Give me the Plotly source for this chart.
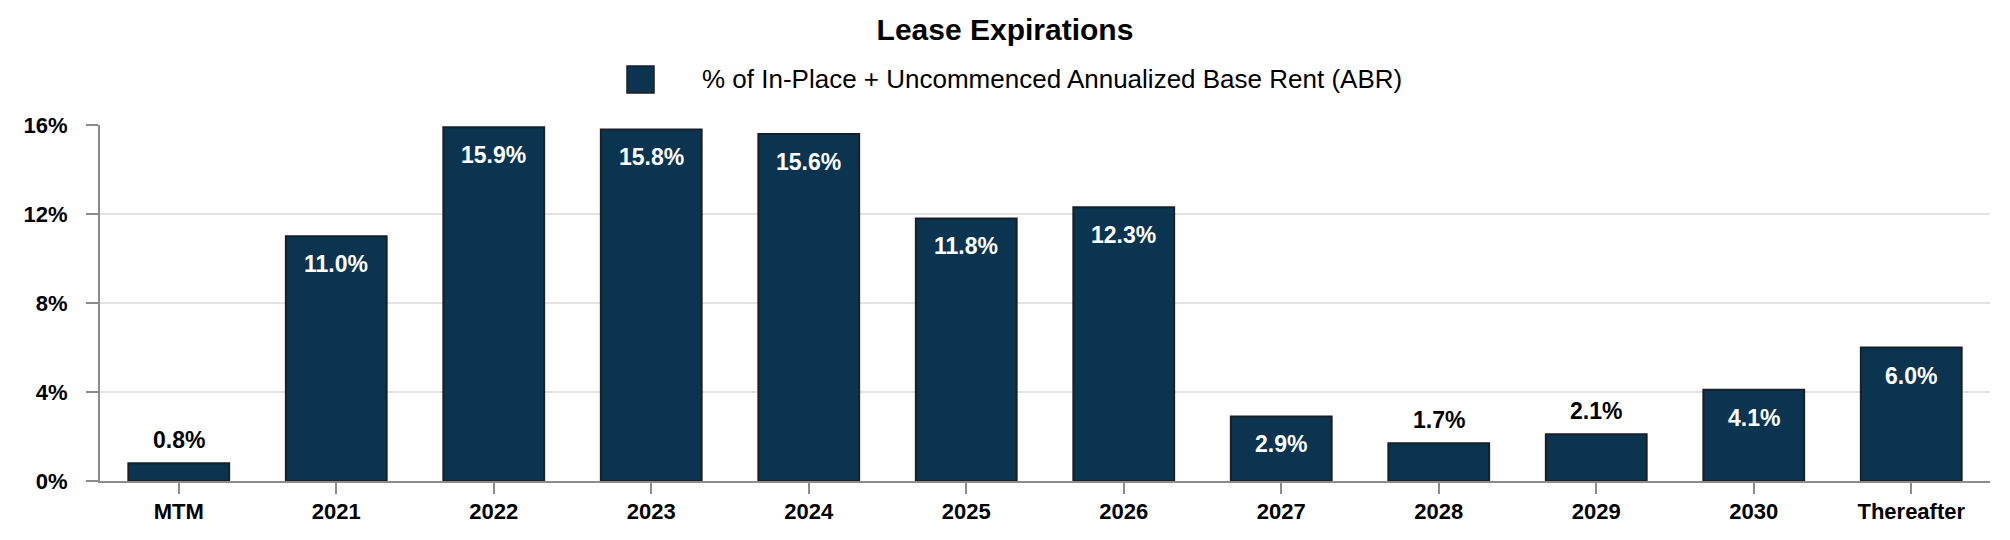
import plotly.graph_objects as go

categories = ["MTM", "2021", "2022", "2023", "2024", "2025", "2026",
              "2027", "2028", "2029", "2030", "Thereafter"]
abr_pct = [0.8, 11.0, 15.9, 15.8, 15.6, 11.8, 12.3, 2.9, 1.7, 2.1, 4.1, 6.0]
y_ticks = [0, 4, 8, 12, 16]
y_tick_labels = ["0%", "4%", "8%", "12%", "16%"]
series_name = "% of In-Place + Uncommenced Annualized Base Rent (ABR)"
title_text = "Lease Expirations"

BAR_COLOR = "#0a3450"
FONT = "Liberation Sans, Arial, sans-serif"
OFF = 8  # page body margin
W, H = 2010 - OFF, 540 - OFF
L, R, T, B = 100 - OFF, 20, 125 - OFF, 59

fig = go.Figure()
fig.add_trace(go.Bar(
    x=categories, y=abr_pct, name=series_name,
    marker=dict(color=BAR_COLOR, line=dict(color="#1a1f24", width=2)),
    width=0.64, showlegend=False, hoverinfo="x+y",
))

# data labels: inside (white) for tall bars, above (black) for short ones
for i, v in enumerate(abr_pct):
    inside = v >= 2.5
    fig.add_annotation(
        x=i, y=v, xref="x", yref="y", text=f"{v:.1f}%", showarrow=False,
        yanchor="middle", yshift=-28 if inside else 23,
        font=dict(family=FONT, size=23, color="white" if inside else "black", weight="bold"),
    )

# legend (custom, to match the large square key); positions in page pixels
pw, ph = W - L - R, H - T - B
def px_x(p): return (p - OFF - L) / pw
def px_y(p): return (H - B - (p - OFF)) / ph
fig.add_shape(type="rect", xref="paper", yref="paper",
              x0=px_x(627), x1=px_x(654), y0=px_y(93), y1=px_y(66),
              fillcolor=BAR_COLOR, line=dict(color="#1a1f24", width=1.5))
fig.add_annotation(xref="paper", yref="paper", x=px_x(700), y=px_y(79),
                   xanchor="left", yanchor="middle", showarrow=False,
                   text=series_name, font=dict(family=FONT, size=26, color="black"))

fig.update_layout(
    width=W, height=H,
    margin=dict(l=L, r=R, t=T, b=B),
    paper_bgcolor="white", plot_bgcolor="white",
    title=dict(text=title_text, x=(1005 - OFF) / W, xanchor="center", xref="container",
               y=1 - (29 - OFF) / H, yanchor="middle", yref="container",
               font=dict(family=FONT, size=30, color="black", weight="bold")),
    showlegend=False,
    bargap=0.36,
)
fig.update_xaxes(
    type="category", range=[-0.5, len(categories) - 0.5],
    showline=True, linecolor="#8c8c8c", linewidth=2,
    ticks="outside", ticklen=11, tickwidth=2, tickcolor="#8c8c8c",
    showgrid=False, ticklabelstandoff=-1,
    tickfont=dict(family=FONT, size=22, color="black", weight="bold"),
)
fig.update_yaxes(
    range=[0, 16], tickvals=y_ticks, ticktext=y_tick_labels,
    showline=True, linecolor="#8c8c8c", linewidth=2,
    ticks="outside", ticklen=12, tickwidth=2, tickcolor="#8c8c8c",
    showgrid=True, gridcolor="#e3e3e3", gridwidth=2, zeroline=False,
    ticklabelstandoff=14,
    tickfont=dict(family=FONT, size=22, color="black", weight="bold"),
)

fig.write_html("out.html")
